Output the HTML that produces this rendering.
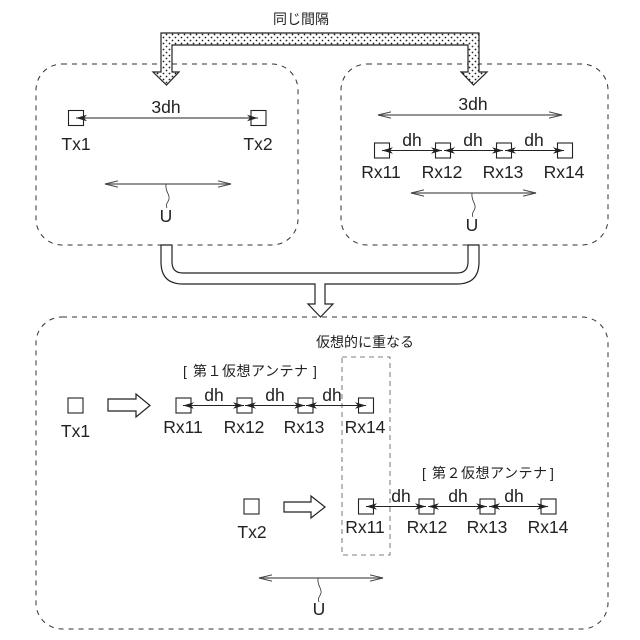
<!DOCTYPE html>
<html lang="ja"><head><meta charset="utf-8"><title>仮想アンテナ</title>
<style>html,body{margin:0;padding:0;background:#fff}svg{display:block}
text{font-family:"Liberation Sans","Noto Sans CJK JP",sans-serif;fill:#222}
.l{font-size:17.5px;text-anchor:middle}
.j{font-size:14px}
.sq{fill:none;stroke:#222;stroke-width:1.1}
.hollow{fill:#fff;stroke:#222;stroke-width:1.2}
.dash{fill:none;stroke:#333;stroke-width:1;stroke-dasharray:5 5}
.ar{stroke:#222;stroke-width:1;fill:none;marker-start:url(#a);marker-end:url(#a)}
.ag{stroke:#555;stroke-width:1.2;fill:none;marker-start:url(#b);marker-end:url(#b)}
.sq2{fill:none;stroke:#333;stroke-width:.8}
</style></head><body>
<svg width="640" height="640" viewBox="0 0 640 640" xmlns="http://www.w3.org/2000/svg">
<defs>
<pattern id="dots" width="6" height="6" patternUnits="userSpaceOnUse">
<rect width="6" height="6" fill="#fff"/><circle cx="1.5" cy="1.5" r=".9" fill="#222"/><circle cx="4.5" cy="4.5" r=".9" fill="#222"/>
</pattern>
<marker id="a" viewBox="0 0 12 8" refX="11" refY="4" markerWidth="12" markerHeight="8" markerUnits="userSpaceOnUse" orient="auto-start-reverse"><path d="M0 .8L11 4L0 7.2L3 4Z" fill="#222"/></marker>
<marker id="b" viewBox="0 0 14 8" refX="13" refY="4" markerWidth="14" markerHeight="8" markerUnits="userSpaceOnUse" orient="auto-start-reverse"><path d="M0 .8L13 4L0 7.2" fill="none" stroke="#444" stroke-width="1"/></marker>
</defs>

<rect class="dash" x="36" y="64" width="262" height="181" rx="26"/>
<rect class="dash" x="341" y="64" width="267" height="181" rx="26"/>
<rect class="dash" x="36" y="317" width="572" height="312" rx="26"/>
<rect x="342" y="357" width="48" height="198" fill="none" stroke="#555" stroke-width=".8" stroke-dasharray="5 4"/>

<path d="M161 33H479V72H487L473.500 85L461 72H468V45H172V72H179L166.500 85L153 72H161Z" fill="url(#dots)" stroke="#222" stroke-width="1.200"/>
<text class="j" x="273" y="24">同じ間隔</text>

<path class="hollow" d="M161 245V262Q161 284 183 284H315V304H308L320.500 317L333 304H325V284H457Q479 284 479 262V245H468V262Q468 273 457 273H183Q172 273 172 262V245Z"/>

<!-- top left -->
<rect class="sq" x="68.500" y="110.500" width="15" height="15"/>
<rect class="sq" x="251" y="110.500" width="15" height="15"/>
<line class="ar" x1="76" y1="118" x2="258" y2="118"/>
<text class="l" x="166" y="113">3dh</text>
<text class="l" x="76" y="150">Tx1</text>
<text class="l" x="258" y="150">Tx2</text>
<line class="ag" x1="105" y1="184" x2="231" y2="184"/>
<path class="sq2" d="M166 184C165 192 170 194 169 199C168 203 165 204 167 208"/>
<text class="l" x="166" y="222">U</text>

<!-- top right -->
<line class="ag" x1="378" y1="115" x2="562" y2="115"/>
<text class="l" x="473" y="110">3dh</text>
<rect class="sq" x="374.500" y="143" width="15" height="15"/>
<rect class="sq" x="435.500" y="143" width="15" height="15"/>
<rect class="sq" x="496.500" y="143" width="15" height="15"/>
<rect class="sq" x="557.500" y="143" width="15" height="15"/>
<line class="ar" x1="382" y1="150.500" x2="442" y2="150.500"/>
<line class="ar" x1="444" y1="150.500" x2="503" y2="150.500"/>
<line class="ar" x1="505" y1="150.500" x2="564" y2="150.500"/>
<text class="l" x="412" y="146">dh</text>
<text class="l" x="473" y="146">dh</text>
<text class="l" x="534" y="146">dh</text>
<text class="l" x="381" y="178">Rx11</text>
<text class="l" x="442" y="178">Rx12</text>
<text class="l" x="503" y="178">Rx13</text>
<text class="l" x="564" y="178">Rx14</text>
<line class="ag" x1="411" y1="193" x2="536" y2="193"/>
<path class="sq2" d="M472 193C471 201 476 203 475 208C474 212 471 213 473 217"/>
<text class="l" x="472" y="231">U</text>

<!-- bottom -->
<text class="j" x="316" y="347">仮想的に重なる</text>

<text class="j" x="183" y="376">[</text>
<text class="j" x="193" y="376" textLength="115">第１仮想アンテナ</text>
<text class="j" x="313" y="376">]</text>

<rect class="sq" x="68" y="398" width="15" height="15"/>
<text class="l" x="75.500" y="437">Tx1</text>
<path class="hollow" d="M108 399H136V394L150 405.500L136 417V411H108Z"/>
<rect class="sq" x="176" y="398" width="15" height="15"/>
<rect class="sq" x="237" y="398" width="15" height="15"/>
<rect class="sq" x="298" y="398" width="15" height="15"/>
<rect class="sq" x="358.500" y="398" width="15" height="15"/>
<line class="ar" x1="183" y1="405.500" x2="244" y2="405.500"/>
<line class="ar" x1="245" y1="405.500" x2="305" y2="405.500"/>
<line class="ar" x1="306" y1="405.500" x2="366" y2="405.500"/>
<text class="l" x="214" y="401">dh</text>
<text class="l" x="275" y="401">dh</text>
<text class="l" x="332" y="401">dh</text>
<text class="l" x="183" y="433">Rx11</text>
<text class="l" x="244" y="433">Rx12</text>
<text class="l" x="304" y="433">Rx13</text>
<text class="l" x="365" y="433">Rx14</text>

<text class="j" x="422" y="478">[</text>
<text class="j" x="432" y="478" textLength="115">第２仮想アンテナ</text>
<text class="j" x="550" y="478">]</text>

<rect class="sq" x="244" y="499" width="15" height="15"/>
<text class="l" x="252" y="538">Tx2</text>
<path class="hollow" d="M284 502H311V496L325 507L311 518V512H284Z"/>
<rect class="sq" x="358.500" y="499" width="15" height="15"/>
<rect class="sq" x="419" y="499" width="15" height="15"/>
<rect class="sq" x="480" y="499" width="15" height="15"/>
<rect class="sq" x="541" y="499" width="15" height="15"/>
<line class="ar" x1="366" y1="506.500" x2="426" y2="506.500"/>
<line class="ar" x1="428" y1="506.500" x2="487" y2="506.500"/>
<line class="ar" x1="489" y1="506.500" x2="548" y2="506.500"/>
<text class="l" x="401" y="502">dh</text>
<text class="l" x="458" y="502">dh</text>
<text class="l" x="514" y="502">dh</text>
<text class="l" x="365" y="533">Rx11</text>
<text class="l" x="427" y="533">Rx12</text>
<text class="l" x="487" y="533">Rx13</text>
<text class="l" x="548" y="533">Rx14</text>

<line class="ag" x1="259" y1="578" x2="383" y2="578"/>
<path class="sq2" d="M318 578C317 586 322 588 321 593C320 597 317 598 319 602"/>
<text class="l" x="319" y="615">U</text>
</svg>
</body></html>
